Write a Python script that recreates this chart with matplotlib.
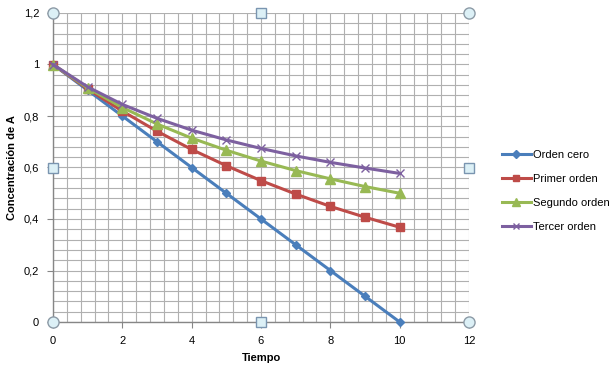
import matplotlib
matplotlib.use("Agg")
import matplotlib.pyplot as plt
import numpy as np
from matplotlib.ticker import MultipleLocator, FuncFormatter

plt.rcParams['font.family'] = ['Liberation Sans', 'DejaVu Sans']

tiempo = [0, 1, 2, 3, 4, 5, 6, 7, 8, 9, 10]
orden_cero = [1.0, 0.9, 0.8, 0.7, 0.6, 0.5, 0.4, 0.3, 0.2, 0.1, 0.0]
primer_orden = [1.0, 0.905, 0.819, 0.741, 0.670, 0.607, 0.549, 0.497, 0.449, 0.407, 0.368]
segundo_orden = [1.0, 0.909, 0.833, 0.769, 0.714, 0.667, 0.625, 0.588, 0.556, 0.526, 0.500]
tercer_orden = [1.0, 0.913, 0.845, 0.791, 0.745, 0.707, 0.674, 0.645, 0.620, 0.598, 0.577]

series = [
    ("Orden cero", orden_cero, "#4a7ebb", "D", 4.5),
    ("Primer orden", primer_orden, "#be4b48", "s", 6),
    ("Segundo orden", segundo_orden, "#98b954", "^", 6.5),
    ("Tercer orden", tercer_orden, "#7d60a0", "x", 6),
]

fig = plt.figure(figsize=(6.14, 3.74), dpi=100)
ax = fig.add_axes([53/614, 1 - 322/374, (469-53)/614, (322-13)/374])

for name, vals, col, mk, ms in series:
    kw = dict(markeredgecolor=col, markerfacecolor=col)
    if mk == "x":
        kw = dict(markeredgecolor=col, markeredgewidth=1.0)
    ax.plot(tiempo, vals, color=col, lw=2.2, marker=mk, ms=ms, label=name,
            zorder=3, clip_on=False, **kw)

ax.set_xlim(0, 12)
ax.set_ylim(0, 1.2)
ax.xaxis.set_major_locator(MultipleLocator(2))
ax.yaxis.set_major_locator(MultipleLocator(0.2))
ax.xaxis.set_minor_locator(MultipleLocator(0.4))
ax.yaxis.set_minor_locator(MultipleLocator(0.04))
ax.grid(True, which='both', color='#b0b0b0', lw=0.8, zorder=0)
ax.set_axisbelow(True)

def yfmt(v, p):
    s = ('%.1f' % v).rstrip('0').rstrip('.') if v != 0 else '0'
    return s.replace('.', ',')
ax.yaxis.set_major_formatter(FuncFormatter(yfmt))

for s in ['top', 'right']:
    ax.spines[s].set_visible(False)
for s in ['left', 'bottom']:
    ax.spines[s].set_color('#868686')
    ax.spines[s].set_linewidth(1.0)
ax.tick_params(which='major', direction='out', length=4, color='#868686',
               labelsize=8, pad=6)
ax.tick_params(which='minor', length=0)

ax.set_xlabel("Tiempo", fontsize=8, fontweight='bold')
ax.xaxis.set_label_coords(0.5, -(358 - 322) / 309, transform=ax.transAxes)
ax.xaxis.label.set_va('center')
ax.set_ylabel("Concentración de A", fontsize=8, fontweight='bold')
ax.yaxis.set_label_coords(-(53 - 12) / 416, 0.5)
ax.yaxis.label.set_va('center')

# Excel-style selection handles
for (hx, hy) in [(0, 0), (12, 0), (0, 1.2), (12, 1.2)]:
    ax.plot([hx], [hy], marker='o', ms=8, mfc='#dcf0f6', mec='#8c9aa6',
            mew=1.0, clip_on=False, zorder=5)
for (hx, hy) in [(6, 0), (6, 1.2), (0, 0.6), (12, 0.6)]:
    ax.plot([hx], [hy], marker='s', ms=6.5, mfc='#dcf0f6', mec='#7a95b0',
            mew=1.0, clip_on=False, zorder=5)

leg = fig.legend(handles=ax.get_lines()[:4], loc='center left',
                 bbox_to_anchor=(492/614, 1 - 191/374), frameon=False,
                 fontsize=8, handlelength=2.6, handletextpad=0.15,
                 labelspacing=1.25, markerscale=0.8)

fig.savefig("out.png", dpi=100)
